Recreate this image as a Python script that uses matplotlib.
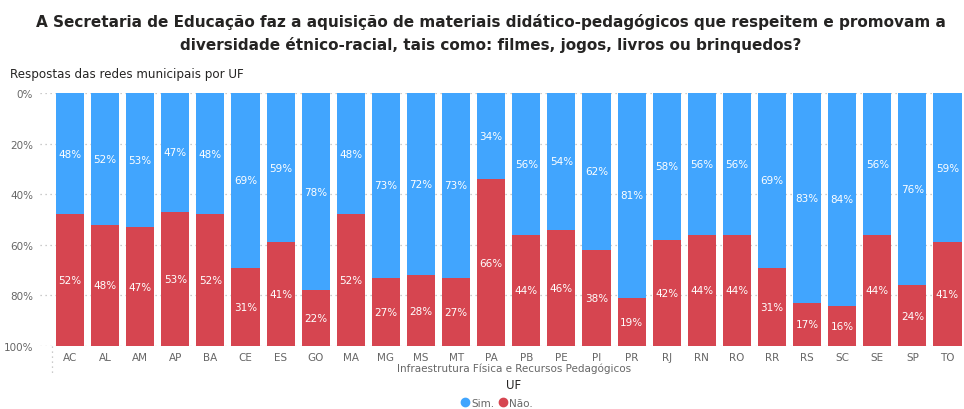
import numpy as np
import matplotlib.pyplot as plt
from matplotlib.lines import Line2D

# Dados: percentual de "Sim." e "Não." por UF
ufs = ['AC', 'AL', 'AM', 'AP', 'BA', 'CE', 'ES', 'GO', 'MA', 'MG', 'MS', 'MT', 'PA',
       'PB', 'PE', 'PI', 'PR', 'RJ', 'RN', 'RO', 'RR', 'RS', 'SC', 'SE', 'SP', 'TO']
sim = [48, 52, 53, 47, 48, 69, 59, 78, 48, 73, 72, 73, 34,
       56, 54, 62, 81, 58, 56, 56, 69, 83, 84, 56, 76, 59]
nao = [52, 48, 47, 53, 52, 31, 41, 22, 52, 27, 28, 27, 66,
       44, 46, 38, 19, 42, 44, 44, 31, 17, 16, 44, 24, 41]

cor_sim = '#41A5FE'
cor_nao = '#D64550'
cinza = '#666666'

fig = plt.figure(figsize=(9.64, 4.10), dpi=100)
ax = fig.add_axes([40 / 964, 1 - 347 / 410, 1 - 40 / 964, 253 / 410])

x = np.arange(len(ufs))
sim = np.array(sim)
nao = np.array(nao)

ax.bar(x, sim, width=0.8, color=cor_sim, zorder=2)
ax.bar(x, nao, width=0.8, bottom=sim, color=cor_nao, zorder=2)

# rótulos dentro das barras
for i in range(len(ufs)):
    ax.text(x[i], sim[i] / 2, f'{sim[i]}%', ha='center', va='center',
            color='white', fontsize=7.5, zorder=3)
    ax.text(x[i], sim[i] + nao[i] / 2, f'{nao[i]}%', ha='center', va='center',
            color='white', fontsize=7.5, zorder=3)

ax.set_ylim(100, 0)
ax.set_xlim(-30 / 35.1, (964 - 70) / 35.1)
ax.set_yticks([0, 20, 40, 60, 80, 100])
ax.set_yticklabels(['0%', '20%', '40%', '60%', '80%', '100%'])
ax.set_xticks(x)
ax.set_xticklabels(ufs)
ax.tick_params(axis='both', length=0, colors=cinza, labelsize=7.5)
ax.tick_params(axis='y', pad=5)
ax.tick_params(axis='x', pad=4)
for s in ax.spines.values():
    s.set_visible(False)
ax.yaxis.grid(True, linestyle=(0, (1, 3)), color='#BBBBBB', linewidth=0.9, zorder=0)

# linha pontilhada vertical do eixo hierárquico
ax.plot([-0.5, -0.5], [100, 112], linestyle=(0, (1, 3)), color='#BBBBBB',
        linewidth=0.9, clip_on=False)

fig.text(491 / 964, 1 - 22 / 410,
         'A Secretaria de Educação faz a aquisição de materiais didático-pedagógicos que respeitem e promovam a',
         ha='center', va='center', fontsize=11.0, color='#252423', fontweight='bold')
fig.text(491 / 964, 1 - 45 / 410,
         'diversidade étnico-racial, tais como: filmes, jogos, livros ou brinquedos?',
         ha='center', va='center', fontsize=11.0, color='#252423', fontweight='bold')
fig.text(10 / 964, 1 - 75 / 410, 'Respostas das redes municipais por UF',
         ha='left', va='center', fontsize=8.6, color='#252423')

fig.text(514 / 964, 1 - 369 / 410, 'Infraestrutura Física e Recursos Pedagógicos',
         ha='center', va='center', fontsize=7.5, color=cinza)
fig.text(514 / 964, 1 - 386 / 410, 'UF', ha='center', va='center',
         fontsize=8.5, color='#252423')

# legenda
handles = [Line2D([], [], marker='o', linestyle='', markersize=6, color=cor_sim, label='Sim.'),
           Line2D([], [], marker='o', linestyle='', markersize=6, color=cor_nao, label='Não.')]
fig.legend(handles=handles, loc='center', bbox_to_anchor=(497 / 964, 1 - 404 / 410),
           ncol=2, frameon=False, fontsize=7.5, handlelength=0.7, handletextpad=0.2,
           columnspacing=0.5, labelcolor=cinza, borderpad=0, borderaxespad=0)

fig.savefig('out.png', dpi=100)
